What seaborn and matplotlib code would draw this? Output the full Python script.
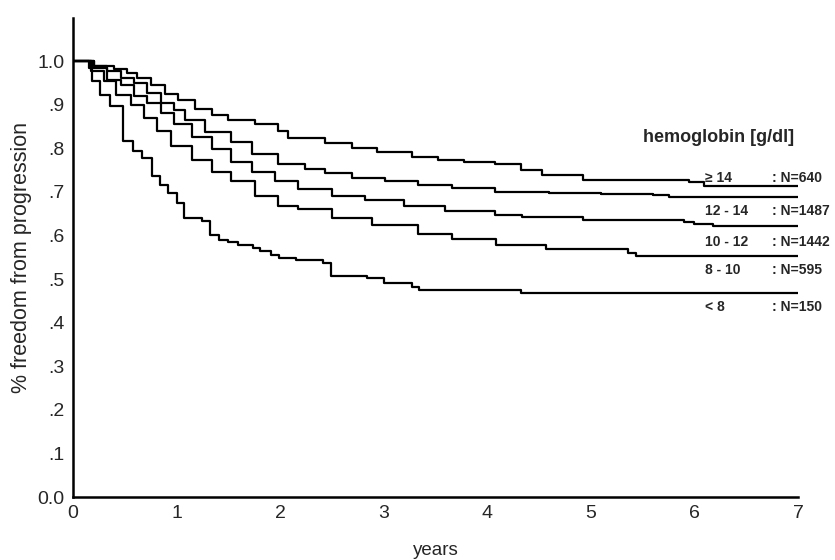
import matplotlib
matplotlib.use("Agg")
import matplotlib.pyplot as plt
import numpy as np
import pandas as pd
import seaborn as sns

# ---- data ----
groups = ["≥ 14", "12 - 14", "10 - 12", "8 - 10", "< 8"]
counts = [": N=640", ": N=1487", ": N=1442", ": N=595", ": N=150"]

t_g14 = [0, 0.2, 0.4, 0.52, 0.62, 0.75, 0.89, 1.01, 1.18, 1.34, 1.50, 1.76, 1.98, 2.08,
         2.43, 2.69, 2.94, 3.27, 3.52, 3.78, 4.07, 4.33, 4.53, 4.85, 4.92, 5.95, 6.09, 7]
s_g14 = [1.0, 0.99, 0.982, 0.972, 0.962, 0.945, 0.925, 0.911, 0.89, 0.877, 0.866, 0.855, 0.84, 0.824,
         0.813, 0.802, 0.791, 0.781, 0.774, 0.768, 0.764, 0.751, 0.740, 0.738, 0.728, 0.722, 0.714, 0.714]

t_12_14 = [0, 0.2, 0.33, 0.46, 0.59, 0.71, 0.85, 0.98, 1.08, 1.27, 1.53, 1.73, 1.98, 2.24,
           2.43, 2.69, 3.01, 3.33, 3.66, 4.07, 4.6, 5.1, 5.6, 5.75, 7]
s_12_14 = [1.0, 0.989, 0.977, 0.962, 0.95, 0.927, 0.905, 0.888, 0.866, 0.837, 0.815, 0.788, 0.765, 0.752,
           0.743, 0.732, 0.725, 0.715, 0.708, 0.701, 0.698, 0.695, 0.692, 0.688, 0.688]

t_10_12 = [0, 0.15, 0.33, 0.46, 0.59, 0.71, 0.85, 0.98, 1.15, 1.34, 1.53, 1.73, 1.95, 2.17,
           2.5, 2.82, 3.2, 3.59, 4.07, 4.34, 4.92, 5.9, 6.0, 6.18, 7]
s_10_12 = [1.0, 0.985, 0.957, 0.945, 0.92, 0.904, 0.881, 0.855, 0.826, 0.798, 0.769, 0.746, 0.724, 0.706,
           0.691, 0.681, 0.667, 0.657, 0.648, 0.642, 0.636, 0.632, 0.627, 0.621, 0.621]

t_8_10 = [0, 0.17, 0.3, 0.42, 0.56, 0.69, 0.81, 0.95, 1.15, 1.34, 1.53, 1.76, 1.98, 2.17,
          2.5, 2.89, 3.33, 3.66, 4.08, 4.57, 5.36, 5.44, 7]
s_8_10 = [1.0, 0.977, 0.955, 0.922, 0.899, 0.87, 0.84, 0.805, 0.773, 0.746, 0.724, 0.69, 0.667, 0.661,
          0.641, 0.624, 0.603, 0.592, 0.578, 0.568, 0.559, 0.552, 0.552]

t_lt8 = [0, 0.18, 0.26, 0.36, 0.48, 0.58, 0.67, 0.76, 0.84, 0.92, 1.0, 1.07, 1.25, 1.32, 1.41,
         1.5, 1.59, 1.74, 1.81, 1.91, 1.99, 2.15, 2.41, 2.49, 2.84, 3.0, 3.27, 3.34, 4.33, 7]
s_lt8 = [1.0, 0.954, 0.922, 0.897, 0.816, 0.795, 0.777, 0.736, 0.715, 0.697, 0.674, 0.640, 0.634, 0.602, 0.59,
         0.586, 0.579, 0.572, 0.565, 0.556, 0.549, 0.543, 0.537, 0.507, 0.502, 0.49, 0.483, 0.476, 0.468, 0.468]

label_y = [0.733, 0.657, 0.586, 0.522, 0.437]
x_ticks = [0, 1, 2, 3, 4, 5, 6, 7]
y_ticks = [0.0, 0.1, 0.2, 0.3, 0.4, 0.5, 0.6, 0.7, 0.8, 0.9, 1.0, 1.1]
y_tick_labels = ["0.0", ".1", ".2", ".3", ".4", ".5", ".6", ".7", ".8", ".9", "1.0", ""]

# ---- build long table ----
times = [t_g14, t_12_14, t_10_12, t_8_10, t_lt8]
survs = [s_g14, s_12_14, s_10_12, s_8_10, s_lt8]
frames = []
for g, t, s in zip(groups, times, survs):
    frames.append(pd.DataFrame({"years": t, "surv": s, "group": g}))
df = pd.concat(frames, ignore_index=True)

sns.set_style("white")
plt.rcParams["font.family"] = ["Liberation Sans", "DejaVu Sans"]

fig = plt.figure(figsize=(8.35, 5.6), dpi=100)
ax = fig.add_axes([0.0874, 0.1125, 0.8683, 0.856])

sns.lineplot(data=df, x="years", y="surv", hue="group", hue_order=groups,
             palette=["black"] * len(groups), estimator=None, sort=False,
             drawstyle="steps-post", linewidth=1.6, legend=False, ax=ax)

ax.set_xlim(0, 7)
ax.set_ylim(0, 1.1)
ax.set_xticks(x_ticks)
ax.set_xticklabels([str(v) for v in x_ticks])
ax.set_yticks(y_ticks)
ax.set_yticklabels(y_tick_labels)
ax.tick_params(axis="both", which="major", direction="out", length=3, width=3,
               color="black", labelsize=14, pad=3)

for side in ["top", "right"]:
    ax.spines[side].set_visible(False)
for side in ["left", "bottom"]:
    ax.spines[side].set_color("black")
    ax.spines[side].set_linewidth(1.8)

ax.set_xlabel("years", fontsize=13.5, labelpad=14)
ax.set_ylabel("% freedom from progression", fontsize=15.5, labelpad=4)

# right-hand labels
ax.text(6.23, 0.825, "hemoglobin [g/dl]", fontsize=13, fontweight="bold",
        ha="center", va="center", clip_on=False)
for g, n, y in zip(groups, counts, label_y):
    ax.text(6.1, y, g, fontsize=10, fontweight="bold", ha="left", va="center", clip_on=False)
    ax.text(6.75, y, n, fontsize=10, fontweight="bold", ha="left", va="center", clip_on=False)

fig.savefig("out.png", dpi=100)
